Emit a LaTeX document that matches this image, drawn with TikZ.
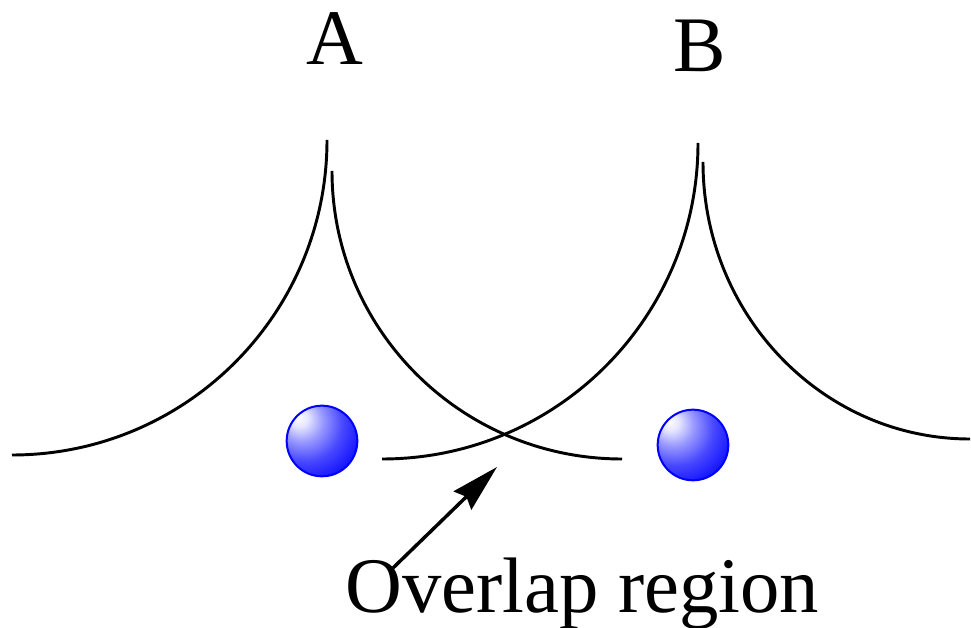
\documentclass[tikz,border=0pt]{standalone}
\usepackage{fontspec}
\setmainfont{Liberation Serif}
\usetikzlibrary{arrows.meta}
\pgfdeclareradialshading{blueball}{\pgfpoint{-17bp}{17bp}}{%
  color(0bp)=(white);
  color(6bp)=(white!90!blue);
  color(15bp)=(blue!40!white);
  color(27bp)=(blue!72!white);
  color(39bp)=(blue!92!white);
  color(47bp)=(blue);
  color(100bp)=(blue)}
\begin{document}
\begin{tikzpicture}[x=0.75pt,y=0.75pt,
  curve/.style={line width=2.2pt},
  ball/.style={circle,minimum size=53pt,inner sep=0pt,shading=blueball,draw=blue,line width=1.5pt},
  lbl/.style={anchor=base,inner sep=0pt,font=\fontsize{59}{62}\selectfont},
  pointer/.style={line width=2.6pt,-{Stealth[length=36pt,width=19pt,inset=4pt]}}]
\useasboundingbox (0,0) rectangle (971,628);
% cusp A
\draw[curve] (12,173) arc[start angle=-90,end angle=0,radius=315];
\draw[curve] (332,457) arc[start angle=180,end angle=270,x radius=290,y radius=288];
% cusp B
\draw[curve] (382,169) arc[start angle=-90,end angle=0,radius=316];
\draw[curve] (703,466) arc[start angle=180,end angle=270,x radius=267,y radius=277];
% spheres
\node[ball] (ballA) at (322,187) {};
\node[ball] (ballB) at (693,183) {};
% labels
\node[lbl] (labA) at (335,563) {A};
\node[lbl] (labB) at (700,556) {B};
\node[lbl,anchor=base west] (ovl) at (345,15) {Overlap region};
% arrow
\coordinate (arrS) at (393,60);
\coordinate (arrE) at (497,161);
\draw[pointer] (arrS) -- (arrE);
\end{tikzpicture}
\end{document}
